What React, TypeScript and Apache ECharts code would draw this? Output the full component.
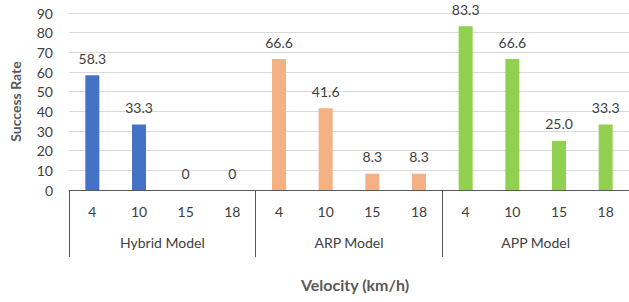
import React, { useEffect, useRef } from "react";
import * as echarts from "echarts";

const velocities = ["4", "10", "15", "18"];
const groups = ["Hybrid Model", "ARP Model", "APP Model"];
const hybridRates = [58.3, 33.3, 0, 0];
const arpRates = [66.6, 41.6, 8.3, 8.3];
const appRates = [83.3, 66.6, 25.0, 33.3];
const groupColors = ["#4472C4", "#F4B183", "#92D050"];
const yMax = 90;
const yStep = 10;

const FONT = "Lato, 'Liberation Sans', sans-serif";

export default function App() {
  const ref = useRef<HTMLDivElement>(null);
  useEffect(() => {
    if (!ref.current) return;
    const chart = echarts.init(ref.current, null, { renderer: "svg" });
    const allRates = [hybridRates, arpRates, appRates];
    const categories: string[] = [];
    const barData: any[] = [];
    allRates.forEach((rates, gi) => {
      rates.forEach((v, i) => {
        categories.push(velocities[i]);
        barData.push({ value: v, itemStyle: { color: groupColors[gi] } });
      });
    });
    chart.setOption({
      animation: false,
      textStyle: { fontFamily: FONT },
      grid: { left: 66, right: -7, top: 13, bottom: 112, containLabel: false },
      xAxis: [
        {
          type: "category",
          data: categories,
          axisLine: { show: false },
          axisTick: { show: false },
          axisLabel: { color: "#404040", fontSize: 14, margin: 14, fontFamily: FONT, interval: 0 },
        },
        {
          type: "category",
          data: groups,
          position: "bottom",
          axisLine: { show: true, lineStyle: { color: "#595959", width: 1 } },
          axisTick: { show: true, length: 67, interval: 0, lineStyle: { color: "#595959", width: 1 } },
          axisLabel: { color: "#404040", fontSize: 14, margin: 45, fontFamily: FONT, interval: 0 },
          name: "Velocity (km/h)",
          nameLocation: "middle",
          nameGap: 86,
          nameTextStyle: {
            color: "#595959",
            fontSize: 16,
            fontWeight: "bold",
            fontFamily: FONT,
            padding: [0, 0, 0, 12],
          },
        },
      ],
      yAxis: {
        type: "value",
        min: 0,
        max: yMax,
        interval: yStep,
        axisLine: { show: false },
        axisTick: { show: false },
        splitLine: { show: true, lineStyle: { color: "#D9D9D9", width: 1 } },
        axisLabel: { color: "#404040", fontSize: 14, margin: 16, fontFamily: FONT },
        name: "Success Rate",
        nameLocation: "middle",
        nameRotate: 90,
        nameGap: 47,
        nameTextStyle: { color: "#595959", fontSize: 14, fontWeight: "bold", fontFamily: FONT },
      },
      series: [
        {
          type: "bar",
          xAxisIndex: 0,
          data: barData,
          barWidth: 14,
          label: {
            show: true,
            position: "top",
            distance: 10,
            color: "#404040",
            fontSize: 14,
            fontFamily: FONT,
            formatter: (p: any) => (p.value === 0 ? "0" : Number(p.value).toFixed(1)),
          },
        },
      ],
    });
    return () => chart.dispose();
  }, []);
  return (
    <div
      ref={ref}
      style={{ position: "fixed", left: 0, top: 0, width: 629, height: 302, background: "#fff" }}
    />
  );
}
